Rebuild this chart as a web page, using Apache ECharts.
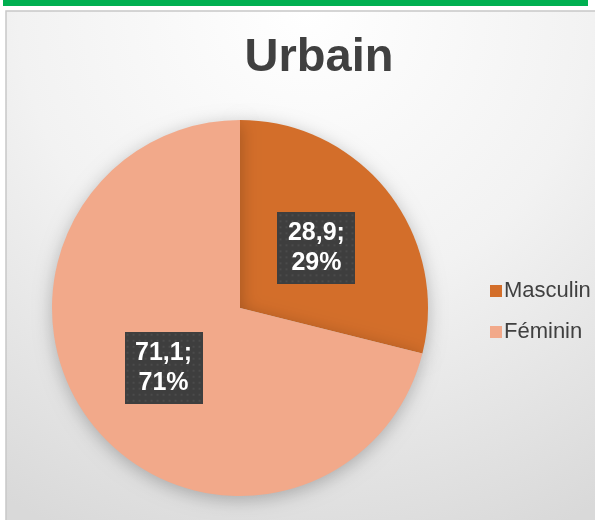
<!DOCTYPE html>
<html>
<head>
<meta charset="utf-8">
<script src="https://cdn.jsdelivr.net/npm/echarts@6/dist/echarts.min.js"></script>
<style>
html,body{margin:0;padding:0;background:#fff;}
#chart{width:595px;height:520px;}
</style>
</head>
<body>
<div id="chart"></div>
<script>
var titre = 'Urbain';
var categories = ['Masculin', 'Féminin'];
var valeurs = [28.9, 71.1];
var pourcents = ['29%', '71%'];
var couleurs = ['#D36E2A', '#F2A98A'];

// motif pointillé du fond des étiquettes
function motif(w, h){
	var c = document.createElement('canvas');
	c.width = w; c.height = h;
	var ctx = c.getContext('2d');
	ctx.fillStyle = '#3e3e3e';
	ctx.fillRect(0, 0, w, h);
	ctx.fillStyle = '#4b4b4b';
	for (var y = 2; y < h; y += 6) {
		for (var x = 2; x < w; x += 6) {
			ctx.fillRect(x, y, 2, 2);
		}
	}
	return c;
}

var myChart = echarts.init(document.getElementById('chart'));
var data = [];
for (var i = 0; i < categories.length; i++) {
	data.push({
		name: categories[i],
		value: valeurs[i],
		pct: pourcents[i],
		itemStyle: { color: couleurs[i] }
	});
}

var option = {
	backgroundColor: '#ffffff',
	animation: false,
	graphic: [
		{ type: 'rect', shape: { x: 3, y: 0, width: 585, height: 6 }, style: { fill: '#00AF50' }, z: 0 },
		{
			type: 'rect', shape: { x: 6, y: 11, width: 600, height: 520 },
			style: {
				fill: new echarts.graphic.RadialGradient(0.5, 0, 1.1, [
					{ offset: 0, color: '#ffffff' },
					{ offset: 0.5, color: '#f2f2f2' },
					{ offset: 1, color: '#d9d9d9' }
				]),
				stroke: '#c8c8c8', lineWidth: 1.5
			},
			z: -1
		}
	],
	title: {
		text: titre,
		left: 314,
		top: 30,
		textAlign: 'center',
		textStyle: { fontFamily: 'Liberation Sans', fontWeight: 'bold', fontSize: 47, color: '#404040' }
	},
	legend: {
		orient: 'vertical',
		left: 485,
		top: 275,
		itemWidth: 12,
		itemHeight: 12,
		itemGap: 19,
		icon: 'rect',
		textStyle: { fontFamily: 'Liberation Sans', fontSize: 22, color: '#404040', padding: [0, 0, 0, -3] },
		data: categories
	},
	series: [{
		name: titre,
		type: 'pie',
		radius: 188,
		center: [240, 308],
		startAngle: 90,
		clockwise: true,
		itemStyle: {
			shadowBlur: 18,
			shadowColor: 'rgba(0,0,0,0.25)',
			shadowOffsetY: 4
		},
		emphasis: { disabled: true },
		label: {
			show: true,
			position: 'inside',
			formatter: function(p){
				return String(p.value).replace('.', ',') + ';\n' + p.data.pct;
			},
			fontFamily: 'Liberation Sans',
			fontWeight: 'bold',
			fontSize: 25,
			lineHeight: 30,
			color: '#ffffff',
			align: 'center',
			width: 78,
			height: 60,
			padding: [6, 0, 6, 0],
			backgroundColor: { image: motif(78, 72) },
			shadowBlur: 5,
			shadowOffsetX: 3,
			shadowOffsetY: 3,
			shadowColor: 'rgba(0,0,0,0.45)'
		},
		labelLine: { show: false },
		data: data
	}]
};

myChart.setOption(option);
</script>
</body>
</html>
